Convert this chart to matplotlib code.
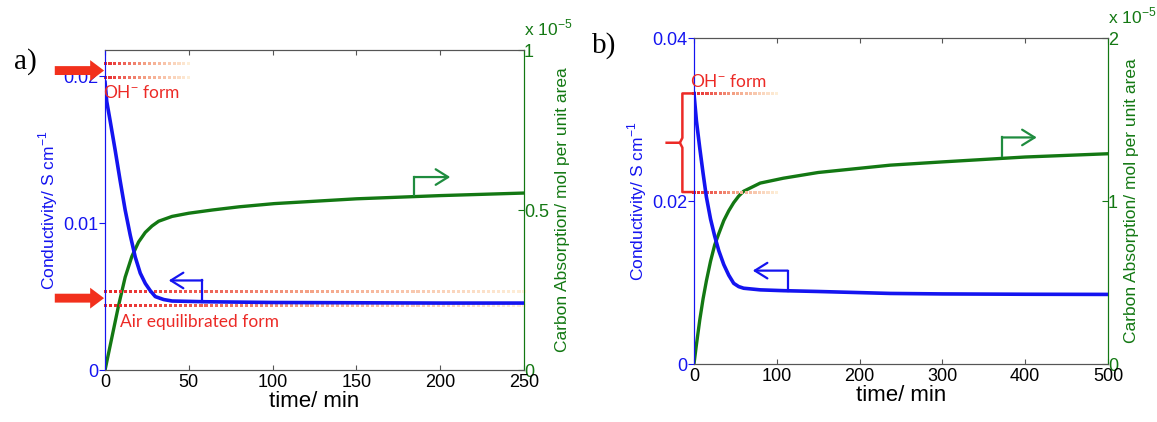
import numpy as np
import matplotlib.pyplot as plt
from matplotlib.colors import LinearSegmentedColormap

# -------------------------------
# Data
# -------------------------------
# panel a) : 0 - 250 min
a_time = [0, 1, 3, 6, 9, 12, 15, 18, 21, 24, 27, 30, 35, 40, 60, 100, 150, 200, 250]
a_cond = [0.0196, 0.0183, 0.0170, 0.0150, 0.0129, 0.0109, 0.0092, 0.0077, 0.0066,
          0.0059, 0.0054, 0.0050, 0.0048, 0.0047, 0.00465, 0.0046, 0.00458, 0.00456, 0.00456]

a_ctime = [0, 4, 8, 12, 16, 20, 24, 28, 32, 40, 50, 64, 80, 101, 150, 200, 250]
a_carbon = [0.0, 0.10, 0.20, 0.29, 0.355, 0.40, 0.43, 0.45, 0.465, 0.48, 0.49,
            0.50, 0.51, 0.52, 0.535, 0.545, 0.553]          # x 1e-5

a_oh_levels = [0.0209, 0.0199]       # OH- form band
a_air_levels = [0.00537, 0.00442]    # air equilibrated band

# panel b) : 0 - 500 min
b_time = [0, 3, 7, 11, 15, 20, 25, 30, 36, 42, 48, 54, 60, 80, 108, 150, 237, 300, 400, 500]
b_cond = [0.0332, 0.0298, 0.0265, 0.0234, 0.0205, 0.0178, 0.0157, 0.0139, 0.0122,
          0.0109, 0.0099, 0.0095, 0.0093, 0.0091, 0.0090, 0.0089, 0.00866, 0.0086,
          0.00856, 0.00854]
b_carbon = [0.0, 0.12, 0.27, 0.40, 0.51, 0.63, 0.73, 0.80, 0.88, 0.94, 0.99, 1.03,
            1.06, 1.11, 1.14, 1.175, 1.22, 1.24, 1.27, 1.29]  # x 1e-5

b_levels = [0.0332, 0.0211]

BLUE = "#1414f0"
GREEN = "#137813"
RED = "#ec2a26"
TICK_FONT = "Liberation Sans"

fade = LinearSegmentedColormap.from_list("fade", ["#e8262a", "#f4a588", "#fdeed8"])


def fading_dots(ax, x0, x1, y, n):
    xs = np.linspace(x0, x1, n)
    cols = fade(np.linspace(0, 1, n))
    ax.scatter(xs, np.full(n, y), marker="s", s=5, c=cols, lw=0, zorder=1, clip_on=False)


def bent_arrow(ax, x0, y0, y1, x1, color):
    ax.plot([x0, x0], [y0, y1], color=color, lw=1.6, zorder=4)
    ax.annotate("", xy=(x1, y1), xytext=(x0, y1),
                arrowprops=dict(arrowstyle="->,head_length=0.45,head_width=0.28",
                                color=color, lw=1.6, shrinkA=0, shrinkB=0,
                                mutation_scale=20), zorder=4)


def red_arrow(ax, x0, x1, y):
    ax.annotate("", xy=(x1, y), xytext=(x0, y), annotation_clip=False,
                arrowprops=dict(arrowstyle="simple,head_length=0.5,head_width=0.75,tail_width=0.32",
                                color="#f2301c", lw=0, shrinkA=0, shrinkB=0,
                                mutation_scale=20))


def style_axes(ax, ax2, xmax, ymax, y2max, yticks, y2ticks, xticks):
    ax.set_xlim(0, xmax)
    ax.set_ylim(0, ymax)
    ax2.set_ylim(0, y2max)
    ax.set_xticks(xticks)
    ax.set_yticks(yticks)
    ax.set_yticklabels([("%g" % v) for v in yticks])
    ax2.set_yticks(y2ticks)
    ax2.set_yticklabels([("%g" % v) for v in y2ticks])

    for a in (ax, ax2):
        a.spines["top"].set_color("#555555")
        a.spines["bottom"].set_color("#555555")
        a.spines["left"].set_color(BLUE)
        a.spines["right"].set_color(GREEN)

    ax.tick_params(axis="x", direction="in", top=True, colors="#555555",
                   labelcolor="black", labelsize=13, pad=3)
    ax.tick_params(axis="y", direction="out", colors=BLUE, labelsize=13, pad=1, length=4)
    ax2.tick_params(axis="y", direction="in", colors=GREEN, labelsize=13, pad=0, length=4)
    for lab in ax.get_xticklabels() + ax.get_yticklabels() + ax2.get_yticklabels():
        lab.set_fontfamily(TICK_FONT)

    ax.set_xlabel("time/ min", fontsize=16, family=TICK_FONT, labelpad=0)
    ax.set_ylabel("Conductivity/ S cm$^{-1}$", color=BLUE, fontsize=12.5, family=TICK_FONT, labelpad=2)
    ax2.set_ylabel("Carbon Absorption/ mol per unit area", color=GREEN, fontsize=12.5,
                   family=TICK_FONT, labelpad=4)
    ax2.text(1.0, 1.035, "x 10$^{-5}$", transform=ax2.transAxes, ha="left", va="bottom",
             color=GREEN, fontsize=12.5, family=TICK_FONT)


def main():
    plt.rcParams["mathtext.fontset"] = "custom"
    plt.rcParams["mathtext.rm"] = TICK_FONT
    fig = plt.figure(figsize=(11.57, 4.22), dpi=100)

    # -------------------------------
    # Panel a
    # -------------------------------
    ax = fig.add_axes([0.0908, 0.1232, 0.3621, 0.7583])
    ax2 = ax.twinx()
    ax.set_zorder(2)
    ax.patch.set_visible(False)

    for y in a_oh_levels:
        fading_dots(ax, 0, 50, y, 18)
    for y in a_air_levels:
        fading_dots(ax, 0, 250, y, 84)

    ax2.plot(a_ctime, a_carbon, color=GREEN, lw=2.4)
    ax.plot(a_time, a_cond, color=BLUE, lw=2.6, zorder=3)

    bent_arrow(ax, 58, 0.00462, 0.0061, 38, BLUE)
    bent_arrow(ax2, 184.5, 0.548, 0.603, 206, "#1f8c3f")

    red_arrow(ax, -30, -0.6, np.mean(a_oh_levels))
    red_arrow(ax, -30, -0.6, np.mean(a_air_levels))
    ax.text(-1, 0.0189, "OH$^{-}$ form", color=RED, fontsize=12.5, family="Lato",
            ha="left", va="center", zorder=5)
    ax.text(9, 0.0033, "Air equilibrated form", color=RED, fontsize=12.5, family="Lato",
            ha="left", va="center", zorder=5)

    style_axes(ax, ax2, 250, 0.0218, 1.0, [0, 0.01, 0.02], [0, 0.5, 1], [0, 50, 100, 150, 200, 250])
    fig.text(0.012, 0.855, "a)", fontsize=21, family="Liberation Serif", va="center")

    # -------------------------------
    # Panel b
    # -------------------------------
    bx = fig.add_axes([0.5998, 0.1374, 0.3578, 0.7725])
    bx2 = bx.twinx()
    bx.set_zorder(2)
    bx.patch.set_visible(False)

    for y in b_levels:
        fading_dots(bx, 0, 100, y, 20)

    bx2.plot(b_time, b_carbon, color=GREEN, lw=2.4)
    bx.plot(b_time, b_cond, color=BLUE, lw=2.6, zorder=3)

    bent_arrow(bx, 113, 0.0090, 0.01146, 71, BLUE)
    bent_arrow(bx2, 372, 1.274, 1.39, 414, "#1f8c3f")

    # curly brace left of the axis
    top, bot = b_levels
    mid = 0.5 * (top + bot)
    bx.plot([0, -14, -14, -17, -33], [top, top, mid + 0.0006, mid, mid],
            color=RED, lw=1.8, clip_on=False, solid_joinstyle="round")
    bx.plot([-17, -14, -14, 0], [mid, mid - 0.0006, bot, bot],
            color=RED, lw=1.8, clip_on=False, solid_joinstyle="round")
    bx.text(-5, 0.0347, "OH$^{-}$ form", color=RED, fontsize=12.5, family="Lato",
            ha="left", va="center", zorder=5)

    style_axes(bx, bx2, 500, 0.04, 2.0, [0, 0.02, 0.04], [0, 1, 2], [0, 100, 200, 300, 400, 500])
    fig.text(0.512, 0.893, "b)", fontsize=21, family="Liberation Serif", va="center")

    fig.savefig("out.png", dpi=100)


if __name__ == "__main__":
    main()
